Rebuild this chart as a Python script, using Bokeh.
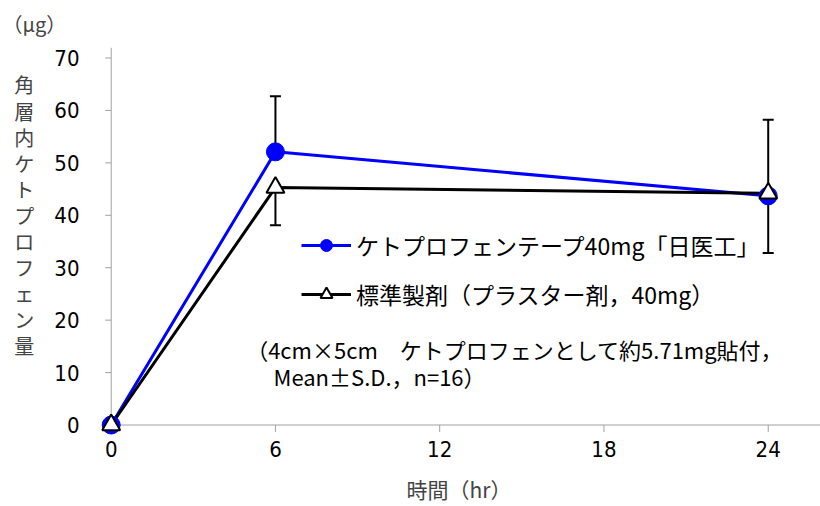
from bokeh.plotting import figure
from bokeh.models import (ColumnDataSource, Range1d, Whisker, TeeHead, Legend,
                          LegendItem, Label, FixedTicker)
from bokeh.embed import file_html
from bokeh.resources import INLINE

# ---- data ----
time_hr = [0, 6, 24]
nichiiko_mean = [0.0, 52.1, 43.7]
nichiiko_sd = [0.0, 10.6, 14.5]
standard_mean = [0.0, 45.3, 44.2]
standard_sd = [0.0, 7.2, 11.4]
x_ticks = [0, 6, 12, 18, 24]
y_ticks = [0, 10, 20, 30, 40, 50, 60, 70]
label_nichiiko = "ケトプロフェンテープ40mg「日医工」"
label_standard = "標準製剤（プラスター剤，40mg）"
y_label_chars = list("角層内ケトプロフェン量")
unit_label = "（μg）"
x_label = "時間（hr）"
note_line1 = "（4cm×5cm　ケトプロフェンとして約5.71mg貼付，"
note_line2 = "Mean±S.D.，n=16）"

CJK = "Noto Sans CJK JP"
NUM = "DejaVu Sans Condensed"
AXIS_GRAY = "#a0a0a0"
X_MIN, X_MAX = -0.5, 25.91
Y_MIN, Y_MAX = -2, 72
X_TICK_LEN = 7 / 5.284     # 7 px in y data units
Y_TICK_LEN = 6 / 27.375    # 6 px in x data units

p = figure(width=820, height=506, output_backend="svg", toolbar_location=None,
           x_range=Range1d(X_MIN, X_MAX), y_range=Range1d(Y_MIN, Y_MAX),
           min_border_left=97, min_border_right=0, min_border_top=46,
           min_border_bottom=69, title=unit_label)
p.outline_line_color = None
p.grid.visible = False
p.background_fill_color = "white"

p.title.text_font = CJK
p.title.text_font_size = "20px"
p.title.text_font_style = "normal"
p.title.align = "left"
p.title.offset = -95
p.title.vertical_align = "top"
p.title.standoff = 16

# label-carrying axes at the frame edges (no line, no ticks)
for ax in (p.xaxis[0], p.yaxis[0]):
    ax.axis_line_color = None
    ax.major_tick_line_color = None
    ax.minor_tick_line_color = None
    ax.major_tick_in = 0
    ax.major_tick_out = 0
    ax.major_label_text_font = NUM
    ax.major_label_text_font_size = "22px"
    ax.major_label_text_color = "black"

p.xaxis[0].ticker = FixedTicker(ticks=x_ticks)
p.yaxis[0].ticker = FixedTicker(ticks=y_ticks)
p.xaxis[0].major_label_standoff = 5
p.yaxis[0].major_label_standoff = 18
p.xaxis[0].axis_label = x_label
p.xaxis[0].axis_label_text_font = CJK
p.xaxis[0].axis_label_text_font_size = "21px"
p.xaxis[0].axis_label_text_font_style = "normal"
p.xaxis[0].axis_label_standoff = 14
p.yaxis[0].axis_label = "\n".join(y_label_chars + ["　", "　"])
p.yaxis[0].axis_label_orientation = "horizontal"
p.yaxis[0].axis_label_text_font = CJK
p.yaxis[0].axis_label_text_font_size = "20px"
p.yaxis[0].axis_label_text_font_style = "normal"
p.yaxis[0].axis_label_text_line_height = 0.9
p.yaxis[0].axis_label_standoff = 17

# axis lines and tick marks crossing at the origin
p.segment(x0=[0], y0=[0], x1=[X_MAX], y1=[0], line_color=AXIS_GRAY, line_width=1)
p.segment(x0=[0], y0=[0], x1=[0], y1=[Y_MAX], line_color=AXIS_GRAY, line_width=1)
p.segment(x0=x_ticks, y0=[0] * len(x_ticks), x1=x_ticks, y1=[-X_TICK_LEN] * len(x_ticks),
          line_color=AXIS_GRAY, line_width=1)
p.segment(x0=[0] * len(y_ticks), y0=y_ticks, x1=[-Y_TICK_LEN] * len(y_ticks), y1=y_ticks,
          line_color=AXIS_GRAY, line_width=1)

# error bars
src_n = ColumnDataSource(dict(x=time_hr[1:],
                              lo=nichiiko_mean[1:],
                              hi=[m + s for m, s in zip(nichiiko_mean[1:], nichiiko_sd[1:])]))
src_s = ColumnDataSource(dict(x=time_hr[1:],
                              lo=[m - s for m, s in zip(standard_mean[1:], standard_sd[1:])],
                              hi=standard_mean[1:]))
w1 = Whisker(base="x", lower="lo", upper="hi", source=src_n, dimension="height",
             line_color="black", line_width=2, lower_head=None,
             upper_head=TeeHead(size=11, line_color="black", line_width=2))
w2 = Whisker(base="x", lower="lo", upper="hi", source=src_s, dimension="height",
             line_color="black", line_width=2, upper_head=None,
             lower_head=TeeHead(size=11, line_color="black", line_width=2))
p.add_layout(w1)
p.add_layout(w2)

# series
ln1 = p.line(time_hr, nichiiko_mean, line_color="#0000ff", line_width=3)
ln2 = p.line(time_hr, standard_mean, line_color="black", line_width=3)
mk1 = p.scatter(time_hr, nichiiko_mean, marker="circle", size=18,
                fill_color="#0000ff", line_color="#0000ff")
mk2 = p.scatter(time_hr, standard_mean, marker="triangle", size=18,
                fill_color="white", line_color="black", line_width=2)

legend = Legend(items=[LegendItem(label=label_nichiiko, renderers=[ln1, mk1]),
                       LegendItem(label=label_standard, renderers=[ln2, mk2])],
                location=(204, 124), glyph_width=50, glyph_height=30, spacing=15,
                label_standoff=5, padding=0, margin=0,
                border_line_color=None, background_fill_alpha=0,
                label_text_font=CJK, label_text_font_size="23px",
                label_text_color="black")
p.add_layout(legend)

# notes
p.add_layout(Label(x=4.93, y=14.5, text=note_line1, text_font=CJK,
                   text_font_size="22px", text_baseline="middle", text_color="black"))
p.add_layout(Label(x=5.93, y=9.3, text=note_line2, text_font=CJK,
                   text_font_size="22px", text_baseline="middle", text_color="black"))

open("out.html", "w").write(file_html(p, INLINE))
